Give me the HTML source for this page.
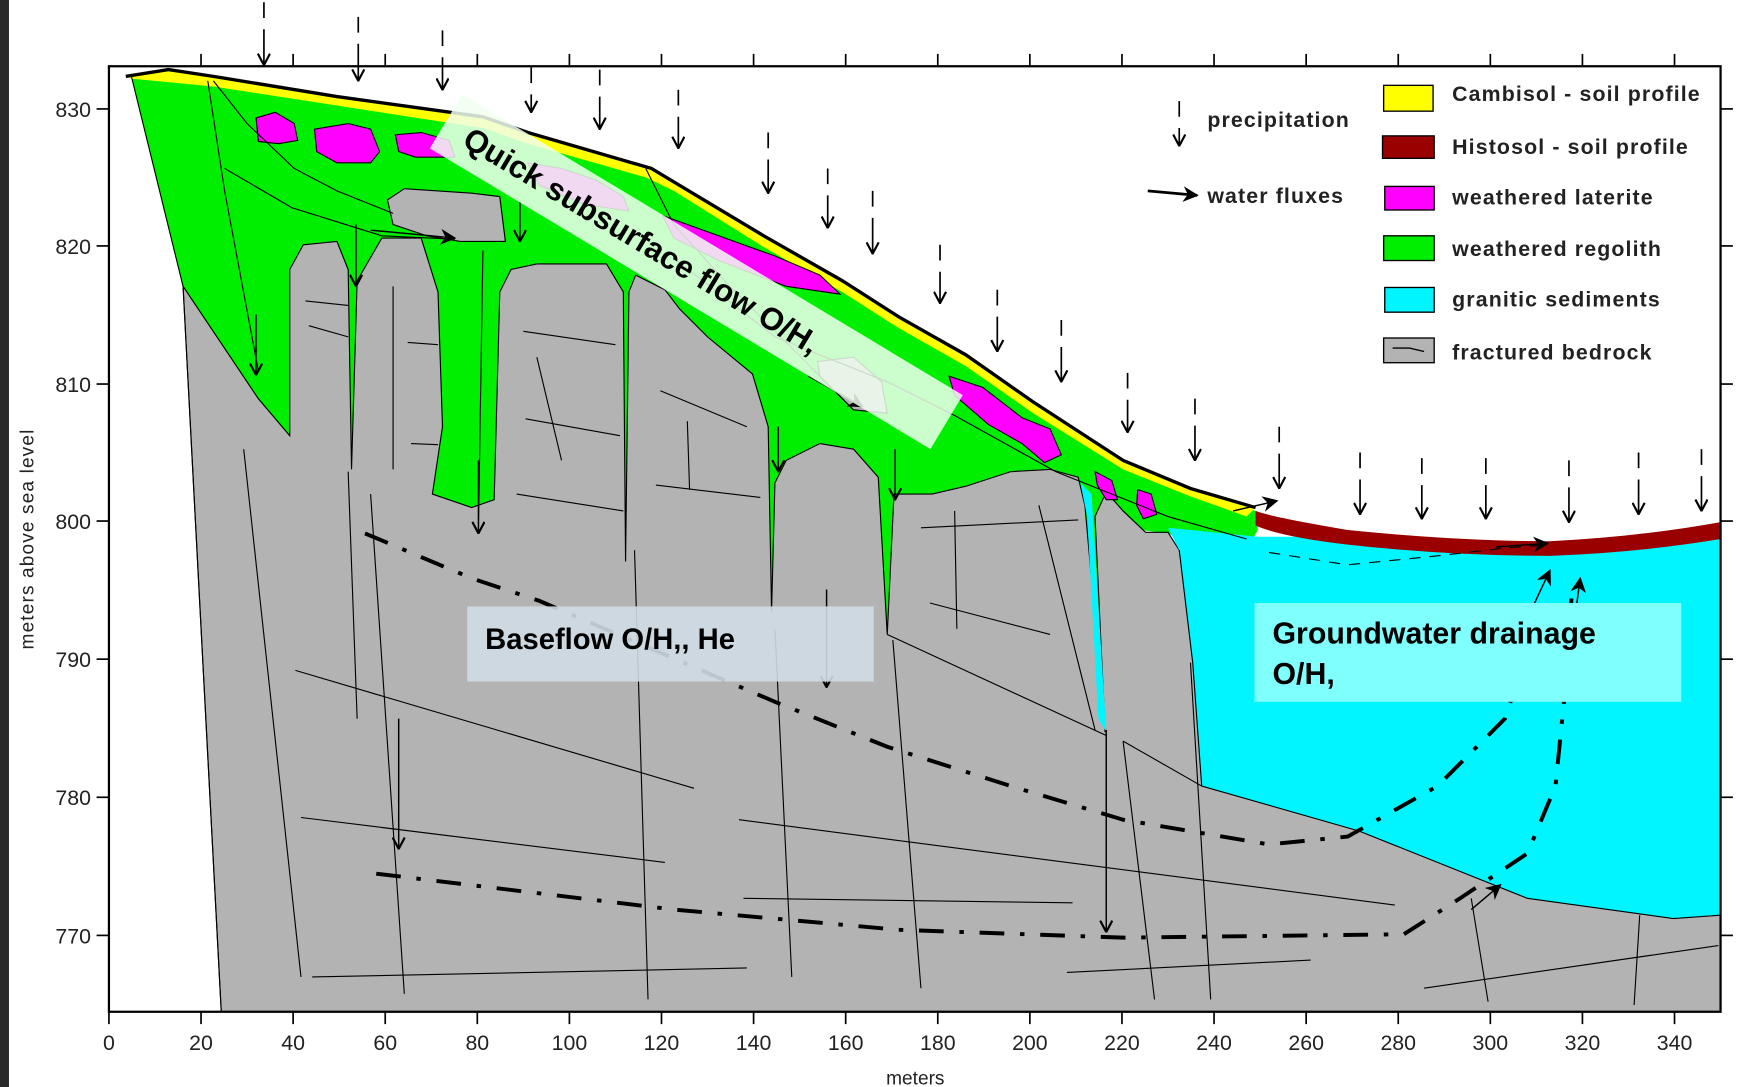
<!DOCTYPE html>
<html><head><meta charset="utf-8"><style>
html,body{margin:0;padding:0;background:#fff;overflow:hidden}
svg{display:block}
text{font-family:"Liberation Sans",sans-serif}
</style></head><body>
<svg width="1761" height="1087" viewBox="0 0 1568 968" preserveAspectRatio="none" xmlns="http://www.w3.org/2000/svg">
<defs>
<marker id="ah" viewBox="0 0 10 10" refX="9.5" refY="5" markerWidth="12" markerHeight="12" orient="auto" markerUnits="userSpaceOnUse"><path d="M1,0.5 L9.5,5 L1,9.5" fill="none" stroke="#000" stroke-width="1.6"/></marker>
<marker id="af" viewBox="0 0 10 10" refX="9" refY="5" markerWidth="14" markerHeight="14" orient="auto" markerUnits="userSpaceOnUse"><path d="M0,0 L10,5 L0,10 L3,5 Z" fill="#000"/></marker>
</defs>
<rect x="0" y="0" width="1568" height="968" fill="#fff"/>
<rect x="0" y="0" width="8" height="968" fill="#2a2a2a"/>

<polygon fill="#00ee00" points="117,68 190,72 300,90 430,108 470,124 575,150 600,166 680,215 750,255 800,290 860,322 920,365 1000,415 1060,440 1118,455 1120,472 1108,492 1080,492 1040,475 1000,470 990,655 800,578 690,552 560,505 440,462 260,422 163,255"/>
<polygon fill="#b3b3b3" stroke="#000" stroke-width="1" points="163,255 230,355 258,388 258,240 270,218 300,215 310,240 313,418 318,250 340,212 375,212 390,260 394,380 385,440 420,452 440,445 445,260 455,240 478,235 540,235 555,260 557,500 560,260 566,245 592,258 605,275 630,300 670,333 684,380 687,545 690,430 700,410 730,395 760,400 782,425 790,565 796,440 830,440 860,433 900,420 935,418 960,425 966,450 984,652 975,460 985,438 1000,455 1020,474 1040,474 1050,490 1532,490 1532,901 197,901"/>
<path d="M345,178 L360,168 L390,170 L420,172 L445,175 L450,215 L410,215 L380,210 L350,200 Z" fill="#b3b3b3" stroke="#000" stroke-width="1"/>
<path d="M728,322 L760,318 L785,340 L790,368 L760,365 L730,335 Z" fill="#b3b3b3" stroke="#000" stroke-width="1"/>
<polygon fill="#00f5ff" points="1040,470 1120,478 1200,478 1300,487 1400,490 1532,478 1532,815 1490,818 1360,800 1210,740 1070,700 1062,590 1050,490"/>
<polyline fill="none" stroke="#000" stroke-width="1" points="1050,490 1062,590 1070,700 1210,740 1360,800 1490,818 1532,815"/>
<polygon fill="#00f5ff" points="962,430 972,440 985,652 978,640 968,460"/>
<path d="M1118,455 Q1130,460 1200,472 Q1300,482 1380,482 Q1460,478 1532,465 L1532,480 Q1460,492 1380,495 Q1290,495 1200,485 Q1140,478 1118,468 Z" fill="#9b0000"/>
<path d="M112,68 L150,62 L190,68 L300,86 L430,104 L470,118 L580,150 L600,162 L680,210 L750,250 L800,282 L860,316 L920,358 L1000,410 L1060,435 L1118,452 L1110,460 L1060,442 L1000,418 L920,368 L860,326 L800,292 L750,260 L680,220 L600,170 L575,158 L470,128 L430,114 L300,94 L190,77 L117,70 Z" fill="#ffff00"/>
<polyline fill="none" stroke="#000" stroke-width="3" points="112,68 150,62 190,68 300,86 430,104 470,118 580,150 600,162 680,210 750,250 800,282 860,316 920,358 1000,410 1060,435 1118,452"/>
<g fill="#ff00ff" stroke="#000" stroke-width="1">
<path d="M228,105 L245,100 L262,110 L265,125 L248,128 L230,126 Z"/>
<path d="M280,115 L310,110 L330,115 L338,135 L330,145 L300,145 L282,135 Z"/>
<path d="M352,120 L375,118 L400,125 L405,140 L370,140 L355,135 Z"/>
<path d="M470,145 L500,150 L530,160 L555,175 L560,188 L520,182 L480,165 Z"/>
<path d="M590,192 L640,210 L690,228 L730,245 L748,262 L700,255 L640,232 L600,212 Z"/>
<path d="M845,335 L875,345 L910,372 L935,382 L945,405 L930,412 L910,395 L880,378 L850,352 Z"/>
<path d="M975,420 L990,428 L995,445 L985,445 L977,432 Z"/>
<path d="M1013,436 L1025,440 L1030,458 L1018,462 L1012,450 Z"/>
</g>
<g fill="none" stroke="#000" stroke-width="1">
<polyline points="117,68 163,255"/>
<polyline points="185,72 200,170 230,330"/>
<polyline points="200,150 260,185 340,210 405,213"/>
<polyline points="190,72 220,110 262,150 300,170 350,190"/>
<polyline points="575,150 600,200 650,255 700,305 760,365"/>
<polyline points="600,230 690,300 790,340 850,370 940,420 1040,460 1110,480"/>
<line x1="163" y1="255" x2="197" y2="901"/>
<line x1="217" y1="400" x2="268" y2="870"/>
<line x1="310" y1="420" x2="318" y2="640"/>
<line x1="330" y1="440" x2="360" y2="885"/>
<line x1="565" y1="490" x2="577" y2="890"/>
<line x1="690" y1="560" x2="705" y2="870"/>
<line x1="795" y1="570" x2="820" y2="880"/>
<line x1="925" y1="450" x2="975" y2="650"/>
<line x1="1000" y1="660" x2="1028" y2="890"/>
<line x1="1060" y1="590" x2="1078" y2="890"/>
<line x1="263" y1="597" x2="618" y2="702"/>
<line x1="268" y1="728" x2="592" y2="768"/>
<line x1="278" y1="870" x2="665" y2="862"/>
<line x1="662" y1="800" x2="955" y2="804"/>
<line x1="658" y1="730" x2="1242" y2="806"/>
<line x1="950" y1="866" x2="1167" y2="855"/>
<line x1="1268" y1="880" x2="1530" y2="842"/>
<line x1="1310" y1="800" x2="1325" y2="892"/>
<line x1="1460" y1="815" x2="1455" y2="895"/>
<line x1="820" y1="470" x2="960" y2="463"/>
<line x1="850" y1="455" x2="852" y2="560"/>
<line x1="828" y1="537" x2="935" y2="565"/>
<line x1="466" y1="295" x2="548" y2="307"/>
<line x1="478" y1="318" x2="500" y2="410"/>
<line x1="468" y1="373" x2="552" y2="388"/>
<line x1="460" y1="440" x2="555" y2="455"/>
<line x1="588" y1="348" x2="665" y2="380"/>
<line x1="612" y1="375" x2="614" y2="436"/>
<line x1="584" y1="432" x2="677" y2="443"/>
<line x1="272" y1="268" x2="310" y2="272"/>
<line x1="275" y1="290" x2="310" y2="300"/>
<line x1="350" y1="255" x2="350" y2="418"/>
<line x1="363" y1="305" x2="390" y2="307"/>
<line x1="366" y1="395" x2="390" y2="396"/>
<line x1="430" y1="223" x2="426" y2="470"/>
<line x1="1000" y1="660" x2="1070" y2="700"/>
<line x1="790" y1="565" x2="985" y2="655"/>
</g>
<g fill="none" stroke="#000" stroke-width="3.5" stroke-dasharray="22 14 4 14">
<polyline points="325,475 420,515 480,535 690,625 790,665 900,700 1000,730 1130,752 1200,745 1280,700 1340,640 1360,580"/>
<polyline points="335,778 600,810 800,828 1000,835 1250,832 1300,800 1360,760 1385,700 1395,600 1400,520"/>
</g>
<polyline fill="none" stroke="#000" stroke-width="1" stroke-dasharray="10 8" points="1130,492 1200,503 1280,495 1340,488 1380,485"/>
<g fill="none" stroke="#000" stroke-width="1.3" marker-end="url(#ah)">
<line x1="228" y1="280" x2="228" y2="334"/>
<line x1="317" y1="200" x2="317" y2="255"/>
<line x1="426" y1="410" x2="426" y2="475"/>
<line x1="463" y1="180" x2="463" y2="215"/>
<line x1="355" y1="640" x2="355" y2="756"/>
<line x1="736" y1="525" x2="736" y2="612"/>
<line x1="693" y1="380" x2="693" y2="420"/>
<line x1="797" y1="400" x2="797" y2="445"/>
<line x1="985" y1="650" x2="985" y2="830"/>
</g>
<g fill="none" stroke="#000" stroke-width="1.3" marker-end="url(#af)">
<line x1="330" y1="205" x2="405" y2="212"/>
<line x1="720" y1="335" x2="768" y2="362"/>
<line x1="1098" y1="455" x2="1137" y2="446"/>
<line x1="1332" y1="487" x2="1378" y2="484"/>
<line x1="1365" y1="540" x2="1380" y2="508"/>
<line x1="1403" y1="545" x2="1407" y2="515"/>
<line x1="1310" y1="810" x2="1336" y2="788"/>
</g>
<g fill="none" stroke="#000" stroke-width="1.5" marker-end="url(#ah)" stroke-dasharray="14 10 200">
<line x1="235" y1="2" x2="235" y2="58"/>
<line x1="319" y1="15" x2="319" y2="72"/>
<line x1="394" y1="27" x2="394" y2="80"/>
<line x1="473" y1="60" x2="473" y2="100"/>
<line x1="534" y1="62" x2="534" y2="115"/>
<line x1="604" y1="80" x2="604" y2="132"/>
<line x1="684" y1="118" x2="684" y2="172"/>
<line x1="737" y1="150" x2="737" y2="203"/>
<line x1="777" y1="170" x2="777" y2="226"/>
<line x1="837" y1="218" x2="837" y2="270"/>
<line x1="888" y1="258" x2="888" y2="313"/>
<line x1="945" y1="285" x2="945" y2="340"/>
<line x1="1004" y1="332" x2="1004" y2="385"/>
<line x1="1064" y1="355" x2="1064" y2="410"/>
<line x1="1139" y1="380" x2="1139" y2="435"/>
<line x1="1211" y1="403" x2="1211" y2="458"/>
<line x1="1266" y1="408" x2="1266" y2="462"/>
<line x1="1323" y1="408" x2="1323" y2="462"/>
<line x1="1397" y1="410" x2="1397" y2="465"/>
<line x1="1459" y1="403" x2="1459" y2="458"/>
<line x1="1515" y1="400" x2="1515" y2="455"/>
<line x1="1050" y1="90" x2="1050" y2="130"/>
</g>
<line x1="1022" y1="170" x2="1066" y2="174" stroke="#000" stroke-width="2.5" marker-end="url(#af)"/>
<g transform="translate(620,242) rotate(31)">
<rect x="-260" y="-28" width="520" height="56" fill="#f0fff0" fill-opacity="0.85"/>
<text x="-238" y="11" font-size="28" font-weight="bold" fill="#000">Quick subsurface flow O/H,</text>
</g>
<rect x="416" y="540" width="362" height="67" fill="#cfdce4" fill-opacity="0.9"/>
<text x="432" y="578" font-size="26" font-weight="bold">Baseflow O/H,, He</text>
<rect x="1117" y="537" width="380" height="88" fill="#80ffff"/>
<text x="1133" y="573" font-size="27" font-weight="bold">Groundwater drainage</text>
<text x="1133" y="609" font-size="27" font-weight="bold">O/H,</text>
<g stroke="#000" stroke-width="1.2">
<rect x="1232" y="76" width="44" height="23" fill="#ffff00"/>
<rect x="1231" y="121" width="46" height="20" fill="#9b0000"/>
<rect x="1233" y="166" width="44" height="21" fill="#ff00ff"/>
<rect x="1232" y="210" width="45" height="22" fill="#00ee00"/>
<rect x="1233" y="256" width="44" height="22" fill="#00f5ff"/>
<rect x="1232" y="301" width="45" height="22" fill="#b3b3b3"/>
<polyline points="1240,310 1255,310 1268,313" fill="none"/>
</g>
<g font-size="19" font-weight="bold" fill="#222" letter-spacing="1">
<text x="1293" y="90">Cambisol - soil profile</text>
<text x="1293" y="137">Histosol - soil profile</text>
<text x="1293" y="182">weathered laterite</text>
<text x="1293" y="228">weathered regolith</text>
<text x="1293" y="273">granitic sediments</text>
<text x="1293" y="320">fractured bedrock</text>
<text x="1075" y="113">precipitation</text>
<text x="1075" y="181">water fluxes</text>
</g>
<rect x="97" y="59" width="1435" height="842" fill="none" stroke="#000" stroke-width="2"/>
<g stroke="#000" stroke-width="1.5">
<line x1="97" y1="901" x2="97" y2="912"/><line x1="179" y1="901" x2="179" y2="912"/><line x1="261" y1="901" x2="261" y2="912"/><line x1="343" y1="901" x2="343" y2="912"/><line x1="425" y1="901" x2="425" y2="912"/><line x1="507" y1="901" x2="507" y2="912"/><line x1="589" y1="901" x2="589" y2="912"/><line x1="671" y1="901" x2="671" y2="912"/><line x1="753" y1="901" x2="753" y2="912"/><line x1="835" y1="901" x2="835" y2="912"/><line x1="917" y1="901" x2="917" y2="912"/><line x1="999" y1="901" x2="999" y2="912"/><line x1="1081" y1="901" x2="1081" y2="912"/><line x1="1163" y1="901" x2="1163" y2="912"/><line x1="1245" y1="901" x2="1245" y2="912"/><line x1="1327" y1="901" x2="1327" y2="912"/><line x1="1409" y1="901" x2="1409" y2="912"/><line x1="1491" y1="901" x2="1491" y2="912"/>
<line x1="179" y1="48" x2="179" y2="59"/><line x1="261" y1="48" x2="261" y2="59"/><line x1="343" y1="48" x2="343" y2="59"/><line x1="425" y1="48" x2="425" y2="59"/><line x1="507" y1="48" x2="507" y2="59"/><line x1="589" y1="48" x2="589" y2="59"/><line x1="671" y1="48" x2="671" y2="59"/><line x1="753" y1="48" x2="753" y2="59"/><line x1="835" y1="48" x2="835" y2="59"/><line x1="917" y1="48" x2="917" y2="59"/><line x1="999" y1="48" x2="999" y2="59"/><line x1="1081" y1="48" x2="1081" y2="59"/><line x1="1163" y1="48" x2="1163" y2="59"/><line x1="1245" y1="48" x2="1245" y2="59"/><line x1="1327" y1="48" x2="1327" y2="59"/><line x1="1409" y1="48" x2="1409" y2="59"/><line x1="1491" y1="48" x2="1491" y2="59"/>
<line x1="86" y1="97" x2="97" y2="97"/><line x1="86" y1="219" x2="97" y2="219"/><line x1="86" y1="342" x2="97" y2="342"/><line x1="86" y1="464" x2="97" y2="464"/><line x1="86" y1="587" x2="97" y2="587"/><line x1="86" y1="710" x2="97" y2="710"/><line x1="86" y1="833" x2="97" y2="833"/>
<line x1="1532" y1="97" x2="1543" y2="97"/><line x1="1532" y1="219" x2="1543" y2="219"/><line x1="1532" y1="342" x2="1543" y2="342"/><line x1="1532" y1="464" x2="1543" y2="464"/><line x1="1532" y1="587" x2="1543" y2="587"/><line x1="1532" y1="710" x2="1543" y2="710"/><line x1="1532" y1="833" x2="1543" y2="833"/>
</g>
<g font-size="19" fill="#222" text-anchor="middle">
<text x="97" y="935">0</text><text x="179" y="935">20</text><text x="261" y="935">40</text><text x="343" y="935">60</text><text x="425" y="935">80</text><text x="507" y="935">100</text><text x="589" y="935">120</text><text x="671" y="935">140</text><text x="753" y="935">160</text><text x="835" y="935">180</text><text x="917" y="935">200</text><text x="999" y="935">220</text><text x="1081" y="935">240</text><text x="1163" y="935">260</text><text x="1245" y="935">280</text><text x="1327" y="935">300</text><text x="1409" y="935">320</text><text x="1491" y="935">340</text>
<text x="815" y="966" font-size="17">meters</text>
</g>
<g font-size="19" fill="#222" text-anchor="end">
<text x="81" y="104">830</text><text x="81" y="226">820</text><text x="81" y="349">810</text><text x="81" y="471">800</text><text x="81" y="594">790</text><text x="81" y="717">780</text><text x="81" y="840">770</text>
</g>
<text transform="translate(30,480) rotate(-90)" font-size="17" fill="#222" text-anchor="middle" letter-spacing="1">meters above sea level</text>
</svg>
</body></html>
